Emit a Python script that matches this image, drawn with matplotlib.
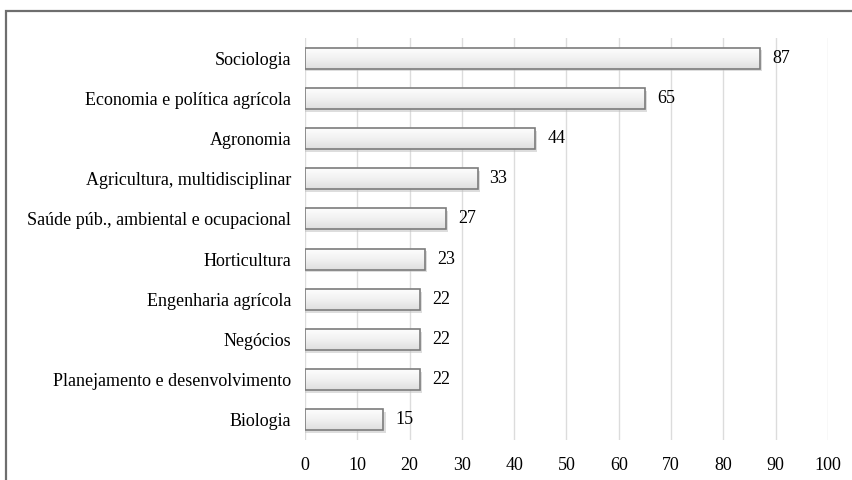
import numpy as np
import matplotlib
matplotlib.use("Agg")
import matplotlib.pyplot as plt
from matplotlib.patches import Rectangle

# categories top to bottom, as in the picture
categories = ["Sociologia", "Economia e política agrícola", "Agronomia",
              "Agricultura, multidisciplinar", "Saúde púb., ambiental e ocupacional",
              "Horticultura", "Engenharia agrícola", "Negócios",
              "Planejamento e desenvolvimento", "Biologia"]
values = [87, 65, 44, 33, 27, 23, 22, 22, 22, 15]
xticks = [0, 10, 20, 30, 40, 50, 60, 70, 80, 90, 100]

plt.rcParams['font.family'] = ['Liberation Serif', 'DejaVu Serif']

fig = plt.figure(figsize=(8.53, 4.8), dpi=100)
ax = fig.add_axes([305 / 853, 1 - 440 / 480, 523 / 853, 402 / 480])

# frame around the whole chart (right/bottom run off the image)
fig.patches.append(Rectangle((6.5 / 853, -0.05), 1.2, 1 - 10.5 / 480 + 0.05,
                             transform=fig.transFigure, fill=False,
                             edgecolor='#6e6e6e', linewidth=1.6, zorder=0))

n = len(categories)
ypos = np.arange(n)
h = 0.52

# vertical gradient for the bars (near white on top, light grey at bottom)
grad = np.linspace(0, 1, 64).reshape(-1, 1)
cmap = matplotlib.colors.LinearSegmentedColormap.from_list(
    "g", ["#fdfdfd", "#f1f1f1", "#dedede"])

for y, v in zip(ypos, values):
    # soft shadow
    ax.add_patch(Rectangle((0, y - h / 2 + 0.07), v + 0.4, h,
                           facecolor='#bdbdbd', edgecolor='none', alpha=0.5, zorder=2))
    ax.imshow(grad, cmap=cmap, aspect='auto', zorder=3,
              extent=(0, v, y + h / 2, y - h / 2))
    ax.add_patch(Rectangle((0, y - h / 2), v, h, facecolor='none',
                           edgecolor='#7c7c7c', linewidth=1.2, zorder=4))
    ax.text(v + 2.3, y, str(v), va='center', ha='left', fontsize=13, color='black')

ax.set_xlim(0, 100)
ax.set_ylim(n - 0.5, -0.5)
ax.set_xticks(xticks)
ax.set_yticks(ypos)
ax.set_yticklabels(categories, fontsize=13)
ax.tick_params(axis='x', labelsize=13, length=0, pad=12)
ax.tick_params(axis='y', length=0, pad=10)
ax.grid(axis='x', color='#dcdcdc', linewidth=1, zorder=0)
ax.set_axisbelow(True)
for s in ax.spines.values():
    s.set_visible(False)

fig.savefig("out.png", dpi=100)
